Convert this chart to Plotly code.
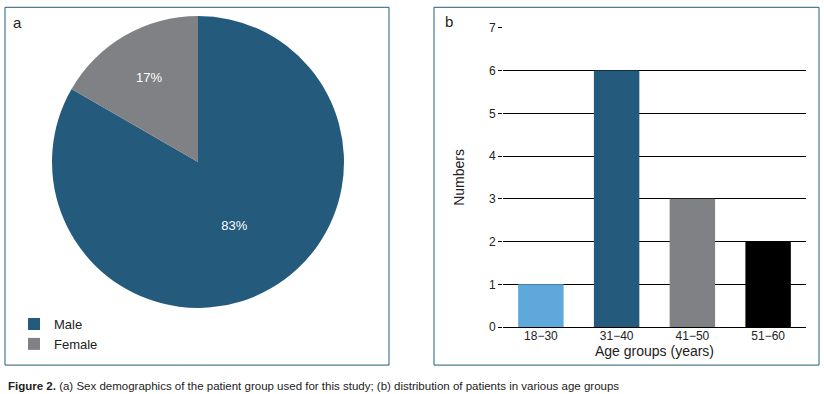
import plotly.graph_objects as go

sex_labels = ["Male", "Female"]
sex_counts = [10, 2]
sex_colors = ["#245b7d", "#808184"]

age_groups = ["18\u221230", "31\u221240", "41\u221250", "51\u221260"]
age_counts = [1, 6, 3, 2]
age_colors = ["#5ea8dc", "#245b7d", "#808184", "#000000"]

W, H = 824, 394
# empirical vertical correction observed in the rendered photograph
VOFF, VSCALE = 6.2, 0.9637
def px(x): return x / W
def py(y): return 1 - ((y - VOFF) / VSCALE) / H

FONT = "Liberation Sans, Arial, sans-serif"

fig = go.Figure()
fig.add_trace(go.Pie(
    labels=sex_labels, values=sex_counts, sort=False, direction="clockwise", rotation=0,
    marker=dict(colors=sex_colors, line=dict(width=0)),
    textinfo="percent", texttemplate="%{percent:.0%}", textposition="inside",
    insidetextfont=dict(color="white", size=13, family=FONT),
    domain=dict(x=[px(52), px(344)], y=[py(310), py(12)]),
    showlegend=True, hoverinfo="label+percent",
))
fig.add_trace(go.Bar(
    x=age_groups, y=age_counts, marker=dict(color=age_colors, line=dict(width=0)),
    xaxis="x", yaxis="y", showlegend=False, width=0.6,
))

fig.update_layout(
    width=W, height=H, margin=dict(l=0, r=0, t=0, b=0),
    paper_bgcolor="white", plot_bgcolor="white",
    font=dict(family=FONT, color="#222222", size=12),
    xaxis=dict(domain=[px(503), px(806)], showgrid=False, showline=False, ticks="",
               tickfont=dict(size=12), title=dict(text="Age groups (years)", font=dict(size=14), standoff=2),
               fixedrange=True),
    yaxis=dict(domain=[py(326), py(27)], range=[0, 7], dtick=1, showgrid=True, gridcolor="black",
               gridwidth=1, zeroline=True, zerolinecolor="black", zerolinewidth=1, showline=False,
               ticks="outside", ticklen=4, tickcolor="black", tickfont=dict(size=12),
               title=dict(text="Numbers", font=dict(size=14), standoff=20)),
    legend=dict(x=px(14), y=py(308), xanchor="left", yanchor="top", font=dict(size=13),
                bgcolor="rgba(0,0,0,0)", itemclick=False),
    bargap=0.4,
)

border = "#245b7d"
fig.add_shape(type="rect", xref="paper", yref="paper", x0=px(5), x1=px(389), y0=py(364), y1=py(6.5),
              line=dict(color=border, width=1))
fig.add_shape(type="rect", xref="paper", yref="paper", x0=px(434), x1=px(819), y0=py(364), y1=py(6.5),
              line=dict(color=border, width=1))

fig.add_annotation(text="a", xref="paper", yref="paper", x=px(11), y=py(22), xanchor="left", yanchor="middle",
                   showarrow=False, font=dict(size=15, color="#222"))
fig.add_annotation(text="b", xref="paper", yref="paper", x=px(443), y=py(21), xanchor="left", yanchor="middle",
                   showarrow=False, font=dict(size=15, color="#222"))
fig.add_annotation(text="<b>Figure 2.</b> (a) Sex demographics of the patient group used for this study; (b) distribution of patients in various age groups",
                   xref="paper", yref="paper", x=px(6), y=py(385), xanchor="left", yanchor="middle",
                   showarrow=False, font=dict(size=11.5, color="#222"))

fig.write_html("out.html", config={"displayModeBar": False},
               post_script="document.body.style.margin='0';document.body.style.padding='0';document.body.style.overflow='hidden';")
